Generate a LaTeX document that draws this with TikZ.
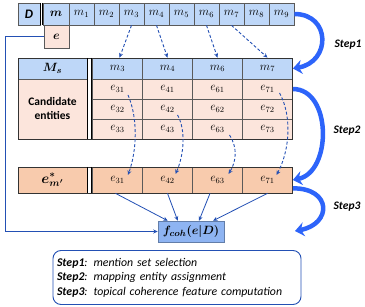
\documentclass[tikz,border=0pt]{standalone}
\usepackage[no-math]{fontspec}
\setmainfont{Carlito}
\usepackage{bm}
\usetikzlibrary{arrows.meta,shadows}
\definecolor{hblue}{RGB}{190,215,248}
\definecolor{epink}{RGB}{252,229,220}
\definecolor{salmon}{RGB}{248,203,173}
\definecolor{fblue}{RGB}{142,180,242}
\definecolor{dblue}{RGB}{35,80,180}
\definecolor{bblue}{RGB}{45,100,250}
\definecolor{cellline}{RGB}{90,90,90}
\begin{document}
\begin{tikzpicture}[x=1pt,y=-1pt,
  cell/.style={draw=cellline, line width=0.7pt, inner sep=0pt, minimum height=22pt, minimum width=25pt, font=\fontsize{12}{13}\selectfont},
  tcell/.style={cell, minimum width=50pt, minimum height=20pt},
  dasharr/.style={draw=dblue, line width=0.9pt, dash pattern=on 3pt off 2pt, -{Stealth[length=4.5pt,width=4pt]}},
  solarr/.style={draw=dblue, line width=0.8pt, -{Stealth[length=4.5pt,width=4pt]}},
  bigarr/.style={draw=bblue, line width=4.5pt, -{Stealth[length=9pt,width=14pt]}},
  steplab/.style={font=\fontsize{11.5}{13}\selectfont\bfseries\itshape},
  dline/.style={line width=0.9pt, black}]
\useasboundingbox (0,0) rectangle (365,307);
% top row
\node[cell, fill=hblue, minimum width=22pt, font=\fontsize{13}{14}\selectfont] (D) at (29,14) {\textbf{\textit{D}}};
\node[cell, fill=hblue, minimum width=26pt] (m) at (56,14) {$\bm{m}$};
\foreach \i in {1,...,9} \node[cell, fill=hblue] (m\i) at ({81.5+25*(\i-1)},14) {$m_{\i}$};
\draw[dline] (40.2,3) -- (40.2,25);
\draw[dline] (42.6,3) -- (42.6,25);
\node[cell, fill=epink, minimum height=23pt, font=\fontsize{13}{14}\selectfont] (e) at (56.5,36.5) {$\bm{e}$};
% table 2
\node[cell, fill=hblue, minimum width=69pt, minimum height=21pt, font=\fontsize{12.5}{14}\selectfont] (Ms) at (52.5,68.5) {$\bm{M_s}$};
\foreach \j/\lab/\x in {1/3/117.5,2/4/167.5,3/6/217.5,4/7/267.5}{
  \node[tcell, fill=hblue, minimum height=21pt] (h\lab) at (\x,68.5) {$m_{\lab}$};
  \foreach \r/\y in {1/89,2/109,3/129}
    \node[tcell, fill=epink] (e\lab\r) at (\x,\y) {$e_{\lab\r}$};
}
\node[cell, fill=epink, minimum width=69pt, minimum height=60pt, align=center, font=\fontsize{11.5}{14}\selectfont\bfseries] (cand) at (52.5,109) {Candidate\\entities};
\draw[line width=0.8pt, black!80] (18,58) rectangle (292.5,139);
\draw[dline] (87.5,58) -- (87.5,139);
\draw[dline] (91.3,58) -- (91.3,139);
% table 3
\node[cell, fill=salmon, minimum width=69pt, minimum height=26pt, font=\fontsize{14}{16}\selectfont] (em) at (52.5,180) {$\bm{e^{*}_{m'}}$};
\foreach \lab/\x in {31/117.5,42/167.5,63/217.5,71/267.5}
  \node[tcell, fill=salmon, minimum height=26pt] (s\lab) at (\x,180) {$e_{\lab}$};
\draw[line width=0.8pt, black!80] (18,167) rectangle (292.5,193);
\draw[dline] (87.5,167) -- (87.5,193);
\draw[dline] (91.3,167) -- (91.3,193);
% f box
\node[draw=fblue!70!black, line width=0.5pt, fill=fblue, minimum width=66pt, minimum height=21pt, inner sep=0pt,
  drop shadow={opacity=0.35, shadow xshift=1.2pt, shadow yshift=-1.2pt}, font=\fontsize{12.5}{14}\selectfont] (f) at (191,231.5) {$\bm{f_{coh}(e|D)}$};
% legend
\node[draw=dblue, line width=0.9pt, rounded corners=8pt, minimum width=248pt, minimum height=54pt, inner sep=0pt,
  text width=240pt, align=left, font=\fontsize{11.8}{14.5}\selectfont\itshape] (leg) at (177,277.5)
  {\textbf{Step1}: mention set selection\\\textbf{Step2}: mapping entity assignment\\\textbf{Step3}: topical coherence feature computation};
% step labels
\node[steplab] (st1) at (348,45) {Step1};
\node[steplab] (st2) at (347,131) {Step2};
\node[steplab] (st3) at (347,207) {Step3};
% dashed arrows top
\draw[dasharr] (m3.south) -- ([xshift=2pt]h3.north);
\draw[dasharr] (m4.south) -- (h4.north);
\draw[dasharr] (m6.south) -- (h6.north);
\draw[dasharr] (m7.south) -- (h7.north);
% dashed curves
\draw[dasharr] ([shift={(10.5,6)}]e31.center) .. controls (138,118) and (137,150) .. ([shift={(10.5,-5)}]s31.center);
\draw[dasharr] ([shift={(10,6)}]e42.center) .. controls (186,130) and (184,155) .. ([shift={(8,-6)}]s42.center);
\draw[dasharr] ([shift={(12,6)}]e63.center) .. controls (238,148) and (236,162) .. ([shift={(11,-6)}]s63.center);
\draw[dasharr] ([shift={(12,4)}]e71.center) .. controls (292,115) and (290,150) .. ([shift={(9,-5)}]s71.center);
% solid arrows
\draw[solarr] ([xshift=-2pt]s31.south) -- ([xshift=10pt]f.north west);
\draw[solarr] (s42.south) -- ([xshift=20pt]f.north west);
\draw[solarr] ([xshift=-7.5pt]s63.south) -- ([xshift=8pt]f.north);
\draw[solarr] (s71.south) -- ([xshift=22pt]f.north);
% left line
\coordinate (lc) at (5,231.5);
\draw[solarr, line width=1pt] (e.west) -| (lc) -- (f.west);
% big arrows
\coordinate (s3end) at (295,231);
\draw[bigarr] (m9.east) .. controls (331,14) and (331,62) .. (h7.east);
\draw[bigarr] (e71.east) .. controls (332,89) and (332,172) .. (s71.east);
\draw[bigarr] ([yshift=5pt]s71.south east) .. controls (332,188) and (332,224) .. (s3end);
\end{tikzpicture}
\end{document}
